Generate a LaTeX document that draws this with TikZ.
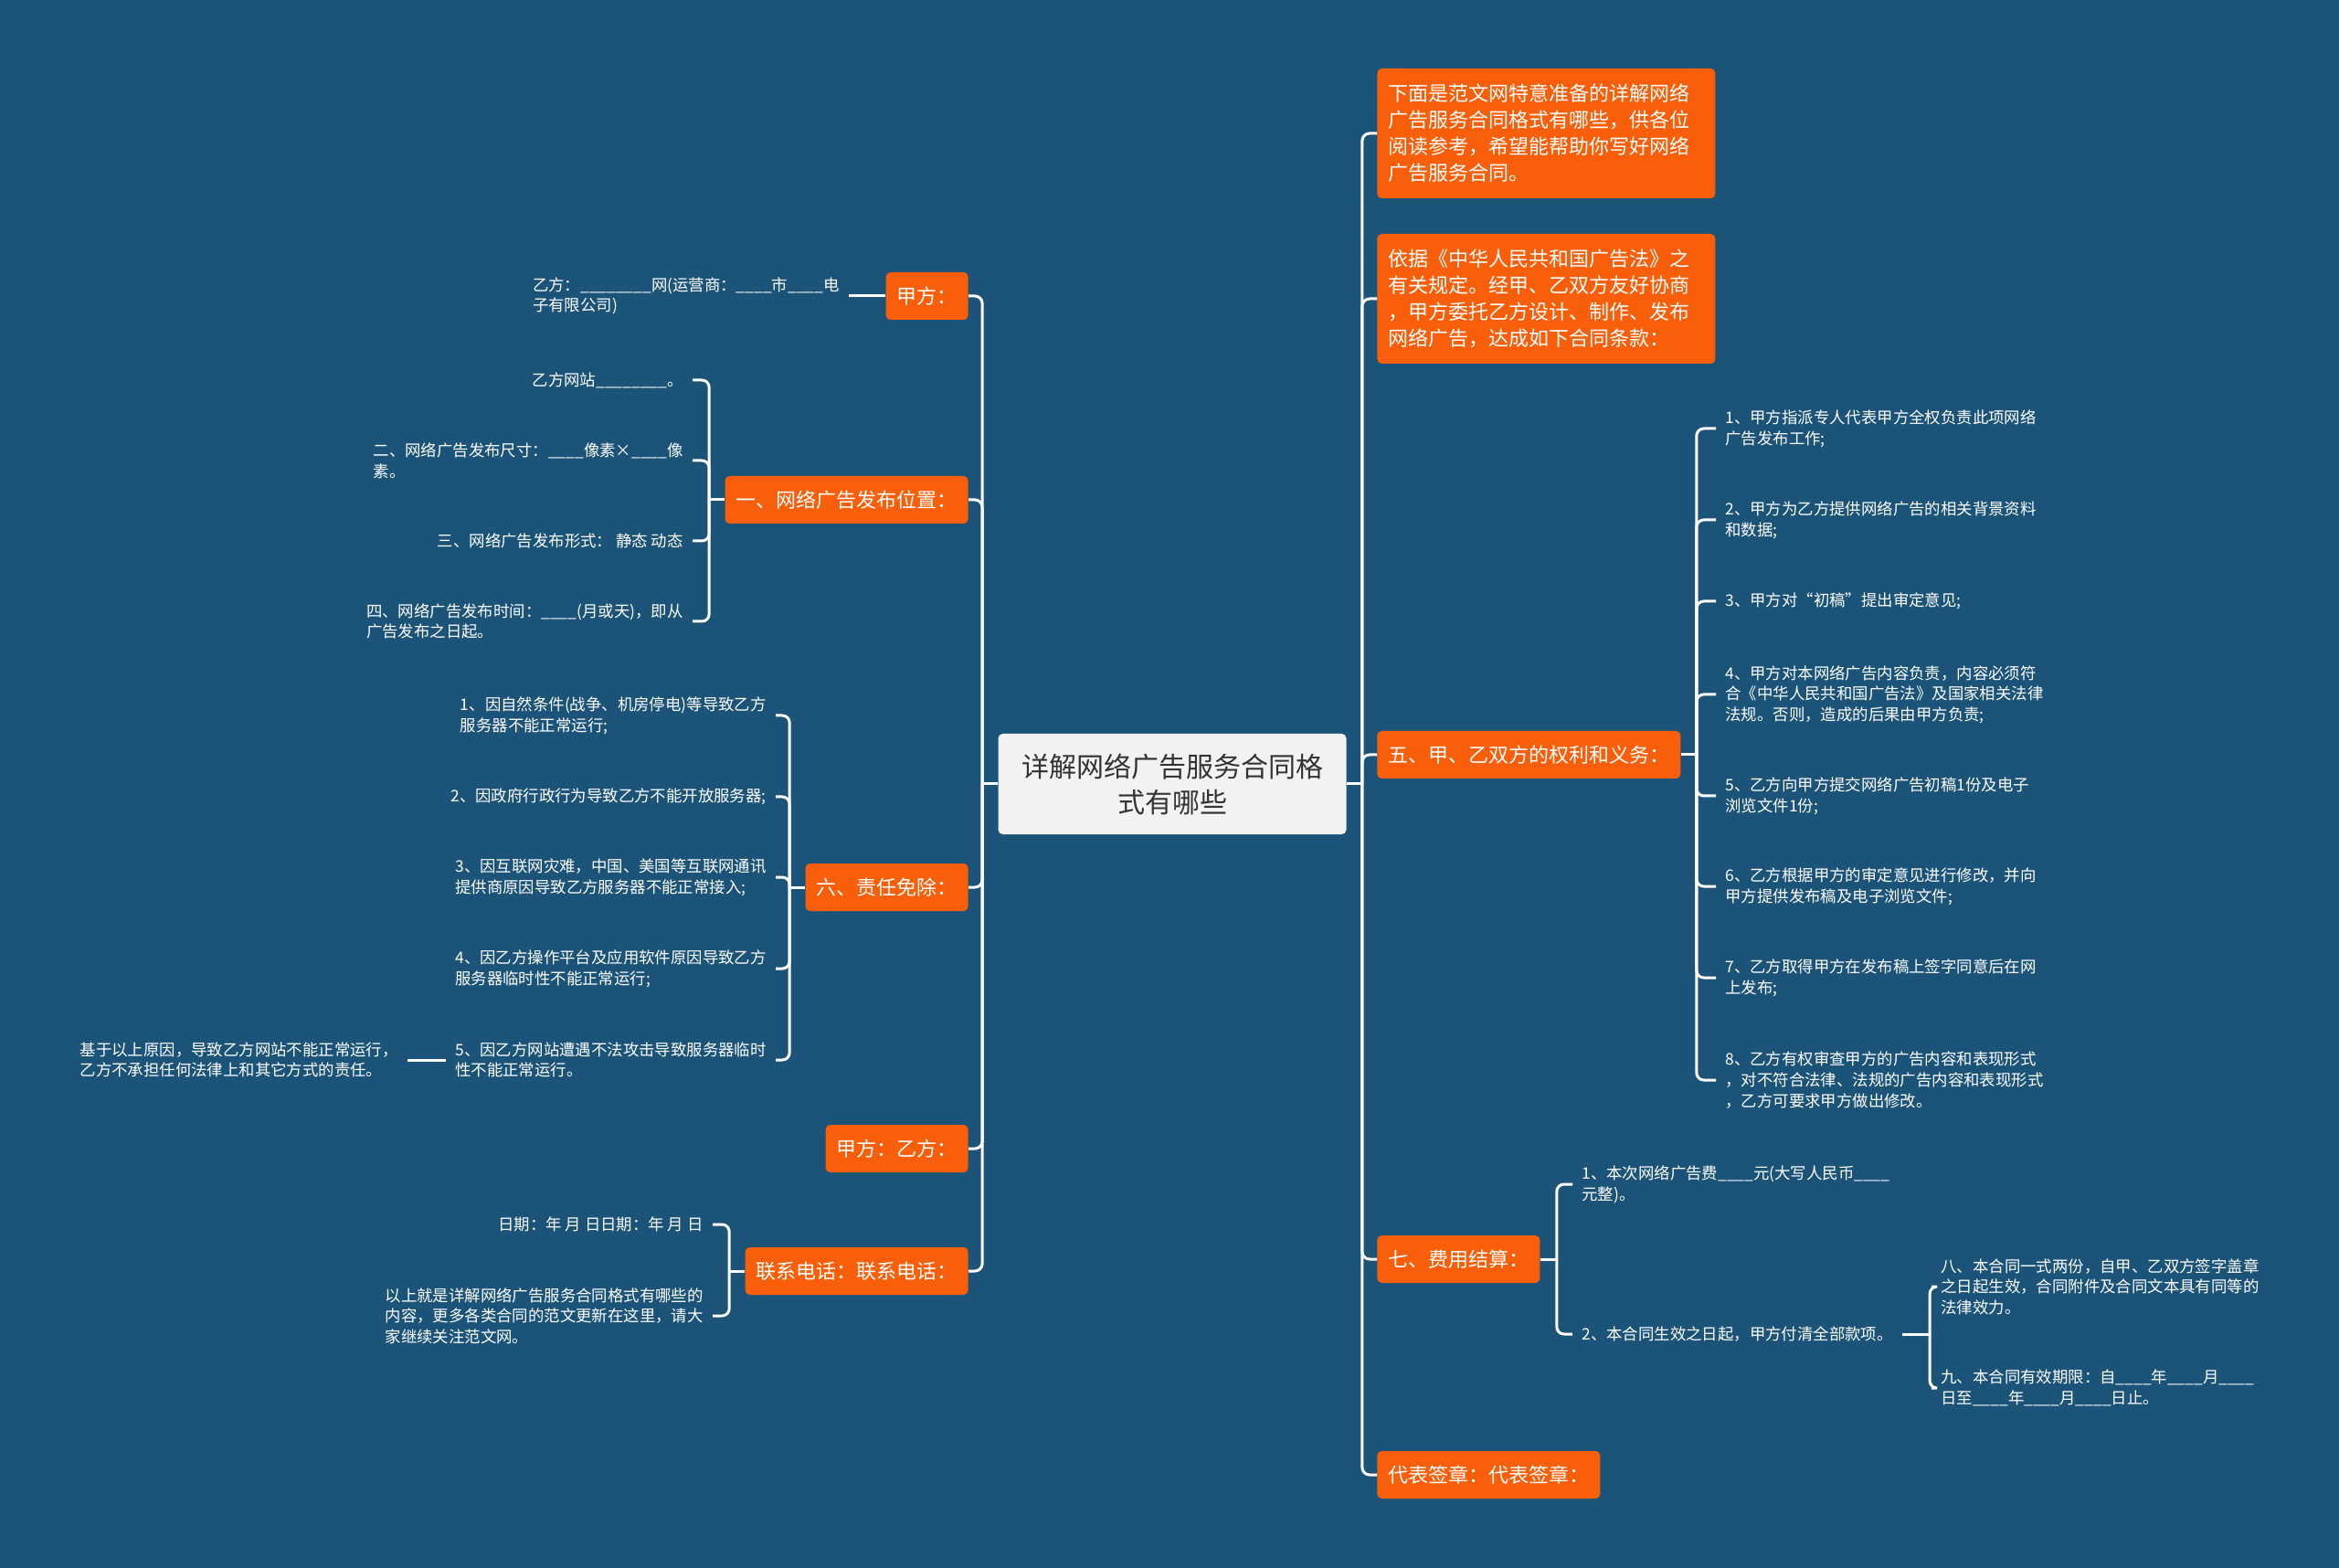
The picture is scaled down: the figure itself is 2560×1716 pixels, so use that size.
\documentclass[tikz,border=0pt]{standalone}
\usepackage{fontspec}
\setmainfont{Noto Sans CJK SC}
\usetikzlibrary{positioning}
\definecolor{mapbg}{HTML}{1B5478}
\definecolor{maporange}{HTML}{F95F0A}
\definecolor{hubfill}{HTML}{F2F2F2}
\newcommand{\blk}{\_\_\_\_}

\begin{document}
\begin{tikzpicture}[x=0.5pt,y=-0.5pt]
  \tikzstyle{hub} = [fill=hubfill, rounded corners=2.5pt, text=black!80, align=center,
                     font=\fontsize{15pt}{19.5pt}\selectfont, minimum width=190.5pt, minimum height=55pt]
  \tikzstyle{topic} = [fill=maporange, rounded corners=2.5pt, text=white, align=left,
                       font=\fontsize{11pt}{14.5pt}\selectfont, inner xsep=6pt, minimum height=26pt]
  \tikzstyle{leaf} = [text=white, align=left, font=\fontsize{8.7pt}{11.3pt}\selectfont,
                      inner xsep=5pt, inner ysep=2pt]
  \tikzstyle{link} = [draw=white, line width=1.5pt]
  \tikzstyle{elbow} = [link, rounded corners=4pt]

  \fill[mapbg] (0,0) rectangle (2560,1716);
  \useasboundingbox (0,0) rectangle (2560,1716);

  % centre
  \node [hub] (ctr) at (1283,858) {详解网络广告服务合同格\\式有哪些};

  % right branches
  \node [topic, anchor=west, text width=173pt, minimum height=71pt] (r1) at (1507,146)
    {下面是范文网特意准备的详解网络\\广告服务合同格式有哪些，供各位\\阅读参考，希望能帮助你写好网络\\广告服务合同。};
  \node [topic, anchor=west, text width=173pt, minimum height=71pt] (r2) at (1507,327)
    {依据《中华人民共和国广告法》之\\有关规定。经甲、乙双方友好协商\\，甲方委托乙方设计、制作、发布\\网络广告，达成如下合同条款：};
  \node [topic, anchor=west] (r5) at (1507,826) {五、甲、乙双方的权利和义务：};
  \node [topic, anchor=west] (r7) at (1507,1378) {七、费用结算：};
  \node [topic, anchor=west] (r8) at (1507,1614) {代表签章：代表签章：};

  \node [leaf, anchor=west] (a1) at (1878,469) {1、甲方指派专人代表甲方全权负责此项网络\\广告发布工作;};
  \node [leaf, anchor=west] (a2) at (1878,569) {2、甲方为乙方提供网络广告的相关背景资料\\和数据;};
  \node [leaf, anchor=west] (a3) at (1878,658) {3、甲方对“初稿”提出审定意见;};
  \node [leaf, anchor=west] (a4) at (1878,760) {4、甲方对本网络广告内容负责，内容必须符\\合《中华人民共和国广告法》及国家相关法律\\法规。否则，造成的后果由甲方负责;};
  \node [leaf, anchor=west] (a5) at (1878,871) {5、乙方向甲方提交网络广告初稿1份及电子\\浏览文件1份;};
  \node [leaf, anchor=west] (a6) at (1878,970) {6、乙方根据甲方的审定意见进行修改，并向\\甲方提供发布稿及电子浏览文件;};
  \node [leaf, anchor=west] (a7) at (1878,1070) {7、乙方取得甲方在发布稿上签字同意后在网\\上发布;};
  \node [leaf, anchor=west] (a8) at (1878,1182) {8、乙方有权审查甲方的广告内容和表现形式\\，对不符合法律、法规的广告内容和表现形式\\，乙方可要求甲方做出修改。};

  \node [leaf, anchor=west] (f1) at (1721,1296) {1、本次网络广告费\blk 元(大写人民币\blk\\元整)。};
  \node [leaf, anchor=west] (f2) at (1721,1460) {2、本合同生效之日起，甲方付清全部款项。};
  \node [leaf, anchor=west] (g1) at (2114,1408) {八、本合同一式两份，自甲、乙双方签字盖章\\之日起生效，合同附件及合同文本具有同等的\\法律效力。};
  \node [leaf, anchor=west] (g2) at (2114,1519) {九、本合同有效期限：自\blk 年\blk 月\blk\\日至\blk 年\blk 月\blk 日止。};

  % left branches
  \node [topic, anchor=east] (l1) at (1060,324) {甲方：};
  \node [topic, anchor=east] (l2) at (1060,547) {一、网络广告发布位置：};
  \node [topic, anchor=east] (l3) at (1060,971) {六、责任免除：};
  \node [topic, anchor=east] (l4) at (1060,1257) {甲方：乙方：};
  \node [topic, anchor=east] (l5) at (1060,1391) {联系电话：联系电话：};

  \node [leaf, anchor=east] (b0) at (929,324) {乙方：\blk\blk 网(运营商：\blk 市\blk 电\\子有限公司)};

  \node [leaf, anchor=east] (d1) at (758,416) {乙方网站\blk\blk。};
  \node [leaf, anchor=east] (d2) at (758,504) {二、网络广告发布尺寸：\blk 像素×\blk 像\\素。};
  \node [leaf, anchor=east] (d3) at (758,592) {三、网络广告发布形式： 静态 动态};
  \node [leaf, anchor=east] (d4) at (758,680) {四、网络广告发布时间：\blk(月或天)，即从\\广告发布之日起。};

  \node [leaf, anchor=east] (c1) at (849,783) {1、因自然条件(战争、机房停电)等导致乙方\\服务器不能正常运行;};
  \node [leaf, anchor=east] (c2) at (849,872) {2、因政府行政行为导致乙方不能开放服务器;};
  \node [leaf, anchor=east] (c3) at (849,960) {3、因互联网灾难，中国、美国等互联网通讯\\提供商原因导致乙方服务器不能正常接入;};
  \node [leaf, anchor=east] (c4) at (849,1060) {4、因乙方操作平台及应用软件原因导致乙方\\服务器临时性不能正常运行;};
  \node [leaf, anchor=east] (c5) at (849,1160) {5、因乙方网站遭遇不法攻击导致服务器临时\\性不能正常运行。};
  \node [leaf, anchor=east] (c6) at (446,1160) {基于以上原因，导致乙方网站不能正常运行，\\乙方不承担任何法律上和其它方式的责任。};

  \node [leaf, anchor=east] (e1) at (780,1340) {日期：年 月 日日期：年 月 日};
  \node [leaf, anchor=east] (e2) at (780,1440) {以上就是详解网络广告服务合同格式有哪些的\\内容，更多各类合同的范文更新在这里，请大\\家继续关注范文网。};

  % connectors
  \draw [link] (ctr.east) -- ++(17,0) coordinate (rj);
  \draw [link] (ctr.west) -- ++(-17,0) coordinate (lj);
  \foreach \k in {r1,r2,r5,r7,r8} \draw [elbow] (rj) |- (\k.west);
  \foreach \k in {l1,l2,l3,l4,l5} \draw [elbow] (lj) |- (\k.east);

  \draw [link] (r5.east) -- ++(17,0) coordinate (j5);
  \foreach \k in {a1,a2,a3,a4,a5,a6,a7,a8} \draw [elbow] (j5) |- (\k.west);
  \draw [link] (r7.east) -- ++(18,0) coordinate (j7);
  \foreach \k in {f1,f2} \draw [elbow] (j7) |- (\k.west);
  \draw [link] (f2.east) -- ++(30,0) coordinate (j9);
  \foreach \k in {g1,g2} \draw [elbow] (j9) |- (\k.west);

  \draw [link] (l1.west) -- (b0.east);
  \draw [link] (l2.west) -- ++(-17,0) coordinate (j1);
  \foreach \k in {d1,d2,d3,d4} \draw [elbow] (j1) |- (\k.east);
  \draw [link] (l3.west) -- ++(-17,0) coordinate (j6);
  \foreach \k in {c1,c2,c3,c4,c5} \draw [elbow] (j6) |- (\k.east);
  \draw [link] (c5.west) -- (c6.east);
  \draw [link] (l5.west) -- ++(-17,0) coordinate (jt);
  \foreach \k in {e1,e2} \draw [elbow] (jt) |- (\k.east);
\end{tikzpicture}
\end{document}
